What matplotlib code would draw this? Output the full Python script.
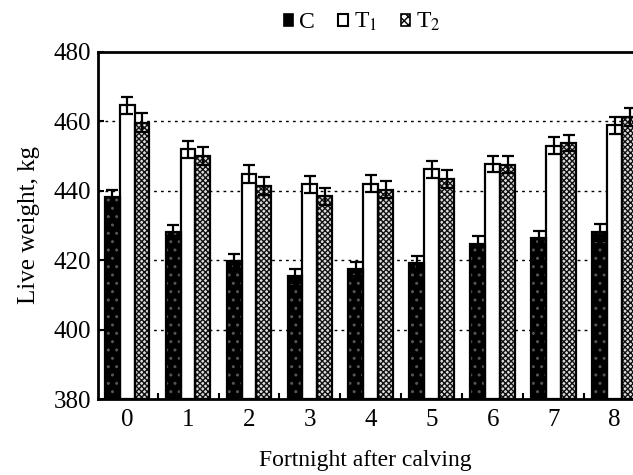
import matplotlib
matplotlib.use("Agg")
import matplotlib.pyplot as plt
import numpy as np
from matplotlib.patches import Patch

plt.rcParams['font.family'] = ['Liberation Serif', 'DejaVu Serif']
plt.rcParams['mathtext.fontset'] = 'stix'
plt.rcParams['hatch.linewidth'] = 1.0

categories = ['0', '1', '2', '3', '4', '5', '6', '7', '8']
C_vals = [438.1, 428.1, 419.7, 415.4, 417.4, 419.1, 424.5, 426.4, 428.0]
T1_vals = [464.6, 451.9, 444.8, 441.8, 442.0, 446.1, 447.7, 453.0, 458.8]
T2_vals = [459.6, 450.0, 441.3, 438.4, 440.3, 443.4, 447.5, 453.7, 461.3]
C_err = [2.0, 2.0, 2.0, 2.0, 2.0, 2.0, 2.4, 1.9, 2.4]
T1_err = [2.5, 2.4, 2.5, 2.5, 2.5, 2.4, 2.4, 2.4, 2.4]
T2_err = [2.7, 2.5, 2.5, 2.5, 2.5, 2.5, 2.5, 2.4, 2.6]
series_labels = ['C', 'T$_1$', 'T$_2$']

fig = plt.figure(figsize=(6.33, 4.75), dpi=100)
ax = fig.add_axes([0.155, 0.16, 0.845, 0.731])

x = np.arange(len(categories))
w = 0.245
ymin = 380

styles = [
    dict(face='black', hatch='..', hcolor='#555555'),
    dict(face='white', hatch=None, hcolor='black'),
    dict(face='#dddddd', hatch='xxxxxx', hcolor='#111111'),
]
vals = [C_vals, T1_vals, T2_vals]
errs = [C_err, T1_err, T2_err]
offs = [-w, 0, w]

for v, e, o, st in zip(vals, errs, offs, styles):
    heights = np.array(v) - ymin
    ax.bar(x + o, heights, w, bottom=ymin, color=st['face'], edgecolor='none', zorder=2)
    if st['hatch']:
        ax.bar(x + o, heights, w, bottom=ymin, color='none', edgecolor=st['hcolor'],
               hatch=st['hatch'], linewidth=0, zorder=3)
    ax.bar(x + o, heights, w, bottom=ymin, color='none', edgecolor='black',
           linewidth=1.6, zorder=4)
    ax.errorbar(x + o, v, yerr=e, fmt='none', ecolor='black', elinewidth=1.6,
                capsize=4, capthick=1.6, zorder=5)

ax.set_ylim(380, 480)
ax.set_xlim(-0.475, 8.3)
ax.set_yticks([380, 400, 420, 440, 460, 480])
ax.set_xticks(x)
ax.set_xticklabels(categories)
ax.set_xticks(x[:-1] + 0.5, minor=True)
ax.tick_params(axis='x', which='major', length=0, labelsize=18, pad=7)
ax.tick_params(axis='x', which='minor', length=4, direction='in', width=1.5)
ax.tick_params(axis='y', length=4, direction='in', width=1.5, labelsize=18, pad=5)

for yv in [400, 420, 440, 460]:
    ax.axhline(yv, color='black', linestyle=(0, (2, 3)), linewidth=1.0, zorder=1)

for s in ['left', 'bottom', 'top']:
    ax.spines[s].set_linewidth(2.0)
ax.spines['right'].set_visible(False)

ax.set_ylabel('Live weight, kg', fontsize=18, labelpad=10)
ax.set_xlabel('Fortnight after calving', fontsize=17, labelpad=14)

handles = [
    Patch(facecolor='black', edgecolor='black', linewidth=1.2),
    Patch(facecolor='white', edgecolor='black', linewidth=1.5),
    Patch(facecolor='white', edgecolor='black', hatch='xxxx', linewidth=1.2),
]
fig.legend(handles, series_labels, loc='center', bbox_to_anchor=(0.572, 0.953),
           ncol=3, frameon=False, fontsize=17, handlelength=0.4, handleheight=0.4,
           handletextpad=0.25, columnspacing=1.0)

fig.savefig('out.png', dpi=100)
